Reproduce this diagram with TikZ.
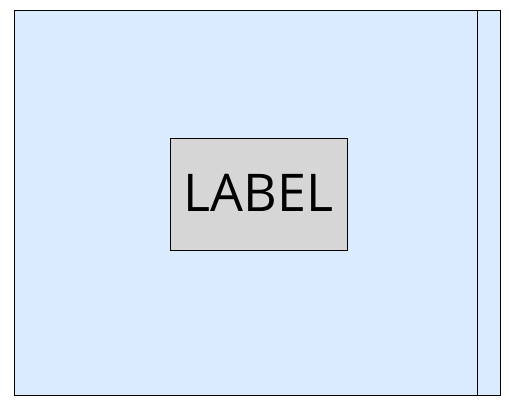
\documentclass[tikz,border=0pt]{standalone}
\usepackage{fontspec}
\setmainfont{Open Sans}
\definecolor{bluefill}{HTML}{DAEBFF}
\definecolor{grayfill}{HTML}{D6D6D6}
\begin{document}
\begin{tikzpicture}[x=1pt,y=-1pt,
  frame/.style={draw=black,line width=1pt,fill=bluefill},
  labelbox/.style={draw=black,line width=1pt,fill=grayfill,minimum width=177pt,minimum height=112pt,inner sep=0pt,text height=40pt,text depth=6pt,font=\fontsize{52}{58}\selectfont}]
\useasboundingbox (0,0) rectangle (509,405);
\draw[frame] (14.5,10.5) rectangle (500.5,395.5);
\coordinate (ltop) at (477,10.5);
\coordinate (lbot) at (477,395.5);
\draw[line width=1pt] (ltop) -- (lbot);
\node[labelbox] (lab) at (258.5,194) {LABEL};
\end{tikzpicture}
\end{document}
